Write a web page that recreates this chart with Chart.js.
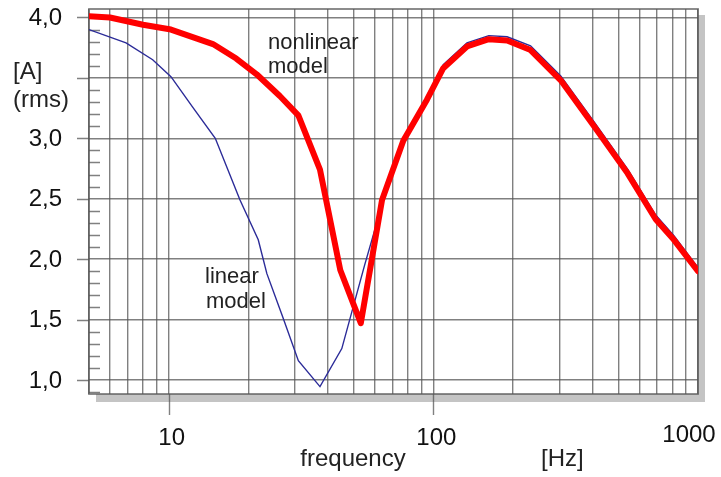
<!DOCTYPE html>
<html>
<head>
    <title>Current vs frequency</title>
    <script src="https://cdn.jsdelivr.net/npm/chart.js"></script>
    <style>
        body {
            margin: 0;
            background: #fff;
        }

        .chart-container {
            width: 721px;
            height: 477px;
        }
    </style>
</head>
<body>
    <div class="chart-container">
        <canvas id="ampChart"></canvas>
    </div>

    <script>
        // nonlinear model (thick red)
        const nonlinFreq = [5, 6, 8, 10.2, 14.7, 18, 21.5, 26.3, 30.9, 37.3, 44.5, 53.2, 64, 77, 94.6, 109, 134, 162, 190, 233, 303, 405, 542, 692, 811, 1000];
        const nonlinAmp  = [4.01, 4.0, 3.94, 3.90, 3.78, 3.66, 3.53, 3.35, 3.19, 2.74, 1.91, 1.47, 2.49, 2.98, 3.32, 3.58, 3.76, 3.82, 3.81, 3.73, 3.48, 3.10, 2.71, 2.33, 2.16, 1.90];

        // linear model (thin blue), runs along the upper edge of the red one past 90 Hz
        const linFreq = [5, 6.9, 8.7, 10.2, 12.3, 15, 18.6, 21.8, 23.5, 27, 30.9, 37.3, 45.1, 55, 64, 77, 94.6, 109, 134, 162, 190, 233, 303, 405, 542, 692, 811, 1000];
        const linAmp  = [3.90, 3.79, 3.65, 3.51, 3.26, 3.00, 2.49, 2.16, 1.88, 1.52, 1.16, 0.945, 1.26, 1.95, 2.45, 2.97, 3.35, 3.61, 3.79, 3.85, 3.84, 3.765, 3.515, 3.135, 2.745, 2.365, 2.195, 1.93];

        // grid and labels
        const xGridValues = [5, 6, 7, 8, 9, 10, 20, 30, 40, 50, 60, 70, 80, 90, 100, 200, 300, 400, 500, 600, 700, 800, 900, 1000];
        const xLabelValues = [10, 100, 1000];
        const yGridValues = [1.0, 1.5, 2.0, 2.5, 3.0, 3.5, 4.0];
        const yLabelValues = [4.0, 3.0, 2.5, 2.0, 1.5, 1.0];

        const FONT = '"Liberation Sans", Arial, sans-serif';
        const GRID = 'rgba(85,85,85,0.75)';

        const toPoints = (xs, ys) => xs.map((x, i) => ({ x: x, y: ys[i] }));

        // shadow, ticks and all the text round the plot
        const decorPlugin = {
            id: 'decor',
            beforeDraw(chart) {
                const { ctx, chartArea: a } = chart;
                ctx.save();
                ctx.fillStyle = '#fff';
                ctx.fillRect(0, 0, chart.width, chart.height);
                ctx.fillStyle = '#c4c4c4';
                ctx.fillRect(a.left + 7, a.top + 6, a.right - a.left, a.bottom - a.top + 2);
                ctx.fillStyle = '#fff';
                ctx.fillRect(a.left, a.top, a.right - a.left, a.bottom - a.top);
                ctx.restore();
            },
            beforeDatasetsDraw(chart) {
                const { ctx, chartArea: a, scales } = chart;
                const x = scales.x, y = scales.y;
                ctx.save();
                ctx.strokeStyle = GRID;
                ctx.lineWidth = 1.4;
                ctx.beginPath();
                // minor y ticks every 0.1
                for (let k = 9; k <= 40; k++) {
                    if (k % 5 === 0) continue;
                    const py = Math.round(y.getPixelForValue(k / 10)) + 0.5;
                    ctx.moveTo(a.left, py);
                    ctx.lineTo(a.left + 11, py);
                }
                // major y ticks reach out to the labels
                yGridValues.forEach(v => {
                    const py = Math.round(y.getPixelForValue(v)) + 0.5;
                    ctx.moveTo(a.left - 12, py);
                    ctx.lineTo(a.left, py);
                });
                // decade ticks below the plot
                [10, 100].forEach(v => {
                    const px = Math.round(x.getPixelForValue(v)) + 0.5;
                    ctx.moveTo(px, a.bottom);
                    ctx.lineTo(px, a.bottom + 21);
                });
                ctx.stroke();
                ctx.lineWidth = 1.8;
                ctx.strokeRect(a.left, a.top, a.right - a.left, a.bottom - a.top);
                ctx.restore();
            },
            afterDraw(chart) {
                const { ctx, scales } = chart;
                const x = scales.x, y = scales.y;
                ctx.save();
                ctx.fillStyle = '#111';
                ctx.font = '24px ' + FONT;

                ctx.textAlign = 'right';
                ctx.textBaseline = 'middle';
                yLabelValues.forEach(v => {
                    ctx.fillText(v.toFixed(1).replace('.', ','), 62, y.getPixelForValue(v) + 1);
                });

                ctx.textAlign = 'center';
                ctx.textBaseline = 'alphabetic';
                xLabelValues.forEach(v => {
                    const px = v === 1000 ? x.getPixelForValue(v) - 9 : x.getPixelForValue(v) + 3;
                    ctx.fillText(String(v), px, v === 1000 ? 442 : 445);
                });

                ctx.fillStyle = '#222';
                ctx.textAlign = 'left';
                ctx.fillText('[A]', 13, 79);
                ctx.fillText('(rms)', 13, 107);
                ctx.textAlign = 'center';
                ctx.fillText('frequency', 353, 466);
                ctx.textAlign = 'left';
                ctx.fillText('[Hz]', 541, 466);

                ctx.font = '22px ' + FONT;
                ctx.fillText('nonlinear', 268, 49);
                ctx.fillText('model', 268, 73);
                ctx.fillText('linear', 205, 283);
                ctx.fillText('model', 206, 308);
                ctx.restore();
            }
        };

        const ctx = document.getElementById('ampChart').getContext('2d');
        new Chart(ctx, {
            type: 'line',
            data: {
                datasets: [{
                    label: 'nonlinear model',
                    data: toPoints(nonlinFreq, nonlinAmp),
                    borderColor: '#ff0000',
                    borderWidth: 6,
                    pointRadius: 0,
                    tension: 0,
                    borderJoinStyle: 'round',
                    borderCapStyle: 'round'
                }, {
                    label: 'linear model',
                    data: toPoints(linFreq, linAmp),
                    borderColor: '#2b2b98',
                    borderWidth: 1.4,
                    pointRadius: 0,
                    tension: 0
                }]
            },
            options: {
                responsive: true,
                maintainAspectRatio: false,
                animation: false,
                layout: {
                    padding: { left: 89, top: 9, right: 23, bottom: 83 }
                },
                plugins: {
                    legend: { display: false },
                    tooltip: { enabled: false }
                },
                scales: {
                    x: {
                        type: 'logarithmic',
                        min: 5,
                        max: 1000,
                        afterBuildTicks: scale => {
                            scale.ticks = xGridValues.map(v => ({ value: v }));
                        },
                        afterFit: scale => { scale.height = 0; },
                        ticks: { display: false },
                        border: { display: false },
                        grid: { color: GRID, lineWidth: 1.4, drawTicks: false }
                    },
                    y: {
                        type: 'linear',
                        min: 0.884,
                        max: 4.07,
                        afterBuildTicks: scale => {
                            scale.ticks = yGridValues.map(v => ({ value: v }));
                        },
                        afterFit: scale => { scale.width = 0; },
                        ticks: { display: false },
                        border: { display: false },
                        grid: { color: GRID, lineWidth: 1.4, drawTicks: false }
                    }
                }
            },
            plugins: [decorPlugin]
        });
    </script>
</body>
</html>
